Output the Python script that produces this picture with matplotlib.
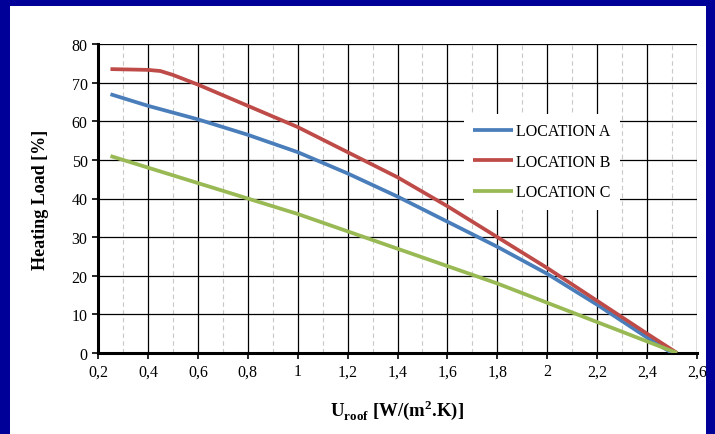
import numpy as np
import matplotlib.pyplot as plt
from matplotlib.patches import Rectangle
from matplotlib.ticker import MultipleLocator, FuncFormatter

# data
u_a = [0.25, 0.4, 0.6, 0.8, 1.0, 1.2, 1.4, 1.6, 1.8, 2.0, 2.2, 2.4, 2.5]
load_a = [67, 64, 60.5, 56.5, 52, 46.5, 40.5, 34, 27.5, 20.5, 12.5, 4, 0]
u_b = [0.25, 0.4, 0.45, 0.5, 0.6, 0.8, 1.0, 1.2, 1.4, 1.6, 1.8, 2.0, 2.2, 2.4, 2.52]
load_b = [73.5, 73.3, 73, 72, 69.5, 64, 58.5, 52, 45.5, 38, 30, 22, 13.5, 5, 0]
u_c = [0.25, 0.6, 0.8, 1.0, 1.2, 1.4, 1.6, 1.8, 2.0, 2.2, 2.4, 2.52]
load_c = [51, 44, 40, 36, 31.5, 27, 22.5, 18, 13, 8, 3, 0]
noms = ['LOCATION A', 'LOCATION B', 'LOCATION C']
cores = ['#4a7ebb', '#be4b48', '#98b954']

plt.rcParams['font.family'] = ['Liberation Serif', 'DejaVu Serif']
plt.rcParams['mathtext.fontset'] = 'custom'
plt.rcParams['mathtext.rm'] = 'Liberation Serif'
plt.rcParams['mathtext.bf'] = 'Liberation Serif:bold'

fig = plt.figure(figsize=(7.15, 4.35), dpi=100, facecolor='#000099')
fig.patches.append(Rectangle((10/715, 0), 696/715, 428/435, transform=fig.transFigure,
                             facecolor='white', edgecolor='none', zorder=-5))
ax = fig.add_axes([98/715, 81/435, 599/715, 309/435])
ax.set_facecolor('white')

for x, y, c, n in zip([u_a, u_b, u_c], [load_a, load_b, load_c], cores, noms):
    ax.plot(x, y, color=c, lw=2.7, label=n, solid_capstyle='butt', zorder=3)

ax.set_xlim(0.2, 2.6)
ax.set_ylim(0, 80)
ax.xaxis.set_major_locator(MultipleLocator(0.2))
ax.xaxis.set_minor_locator(MultipleLocator(0.1))
ax.yaxis.set_major_locator(MultipleLocator(10))

def virgula(v, pos):
    s = ('%.1f' % v).rstrip('0').rstrip('.')
    return s.replace('.', ',')
ax.xaxis.set_major_formatter(FuncFormatter(virgula))

ax.grid(which='major', axis='both', color='black', lw=0.9)
ax.grid(which='minor', axis='x', color='#c8c8c8', lw=0.8, ls=(0, (4, 3)))
ax.set_axisbelow(True)

for s in ['top', 'right']:
    ax.spines[s].set_visible(False)
ax.spines['left'].set_linewidth(2.2)
ax.spines['bottom'].set_linewidth(2.2)
ax.tick_params(which='major', direction='out', length=4, width=1.2, labelsize=11.5)
ax.tick_params(which='minor', length=0)

ax.set_ylabel('Heating Load [%]', fontsize=13, fontweight='bold', labelpad=16)
ax.set_xlabel('U$_{\\mathbf{roof}}$ [W/(m$^{\\mathbf{2}}$.K)]', fontsize=13.5, fontweight='bold', labelpad=13)

leg = ax.legend(loc='upper left', bbox_to_anchor=(0.597, 0.80), frameon=True, fancybox=False,
                edgecolor='none', framealpha=1, fontsize=11.5, handlelength=2.5,
                handletextpad=0.2, labelspacing=0.9, borderpad=0.6)

fig.savefig('out.png', dpi=100, facecolor=fig.get_facecolor())
